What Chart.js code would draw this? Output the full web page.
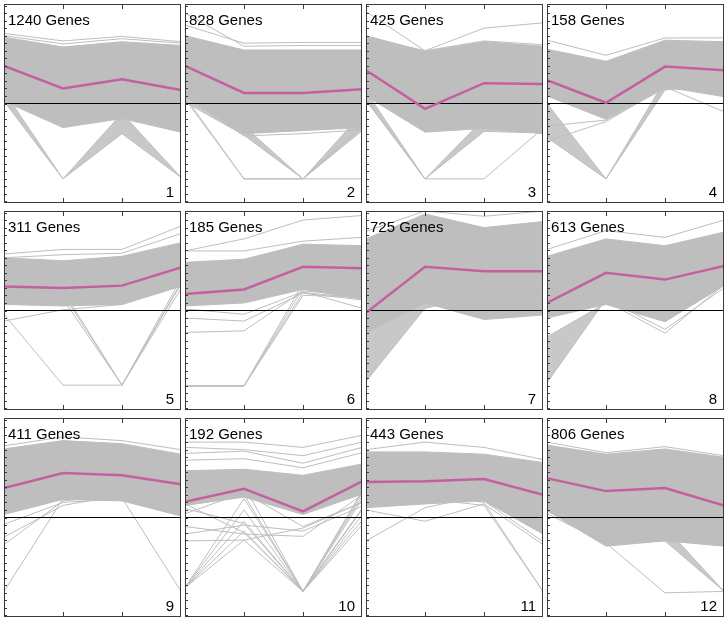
<!DOCTYPE html>
<html>
<head>
<meta charset="utf-8">
<script src="https://cdn.jsdelivr.net/npm/chart.js@4.4.1/dist/chart.umd.min.js"></script>
<style>
  html, body { margin: 0; padding: 0; background: #fff; }
  #grid { position: relative; width: 728px; height: 622px; }
  .panel { position: absolute; width: 177px; height: 199px; }
</style>
</head>
<body>
<div id="grid"></div>
<script>
// Cluster sizes, one per panel
const geneCounts = [1240, 828, 425, 158, 311, 185, 725, 613, 411, 192, 443, 806];
// 4 samples per profile
const samplePoints = [0, 1, 2, 3];

// Cluster mean profiles (pink line)
const meanProfiles = [
  [5.0, 2.0, 3.2, 1.8],
  [5.0, 1.4, 1.4, 1.9],
  [4.4, -0.7, 2.7, 2.6],
  [3.1, 0.1, 4.9, 4.4],
  [3.2, 3.0, 3.3, 5.7],
  [2.2, 2.8, 5.8, 5.6],
  [-0.3, 5.8, 5.2, 5.2],
  [1.0, 5.0, 4.1, 5.9],
  [3.9, 5.9, 5.6, 4.4],
  [2.1, 3.8, 0.8, 4.8],
  [4.7, 4.8, 5.1, 3.0],
  [5.2, 3.5, 3.9, 1.6]
];

// Upper and lower edge of the dense bundle of gene profiles
const bandUpper = [
  [8.8, 7.5, 8.2, 7.7],
  [9.0, 7.1, 7.1, 7.1],
  [9.0, 6.9, 8.2, 7.6],
  [7.2, 5.6, 8.4, 8.2],
  [7.0, 6.6, 7.2, 9.0],
  [6.4, 6.8, 8.8, 8.6],
  [9.5, 12.8, 11.0, 11.8],
  [7.2, 9.5, 8.6, 10.4],
  [9.1, 10.2, 9.8, 8.4],
  [6.2, 6.4, 5.6, 7.1],
  [8.7, 8.7, 8.4, 7.3],
  [9.6, 8.4, 9.1, 8.0]
];
const bandLower = [
  [0.3, -3.2, -2.0, -3.8],
  [0.8, -4.0, -3.6, -3.2],
  [1.0, -3.8, -3.3, -4.0],
  [1.0, -2.1, 2.2, 0.9],
  [0.8, 0.6, 0.8, 3.2],
  [0.6, 1.0, 2.8, 1.5],
  [-3.0, 1.0, -1.2, -0.6],
  [-1.0, 0.8, -1.5, 3.3],
  [0.4, 2.4, 2.2, 0.2],
  [1.6, 2.7, 0.4, 3.1],
  [1.3, 1.8, 2.2, -2.2],
  [0.9, -3.8, -3.1, -3.8]
];

// Fans of profiles dropping to the floor value (null = none)
const fanUpper = [
  [1.6, -10, -1.3, -9.8],
  [0.5, -3.0, -10, -1.3],
  [1.6, -10, -2.0, -3.0],
  [0.0, -10, 3.1, 3.0],
  null,
  null,
  [-2.5, 1.0, 2.0, 2.0],
  [-3.5, 1.0, 2.0, 4.0],
  null,
  null,
  null,
  [4.0, -2.0, -1.3, -9.8]
];
const fanLower = [
  [0.3, -10, -4.0, -9.8],
  [0.2, -4.2, -10, -3.6],
  [0.4, -10, -3.7, -3.9],
  [-4.5, -10, 1.8, 2.5],
  null,
  null,
  [-9.4, 0.3, 2.0, 2.0],
  [-9.6, 1.5, 2.0, 4.0],
  null,
  null,
  null,
  [1.0, -3.5, -3.1, -9.8]
];

// Single outlying gene profiles
const strayProfiles = [
  [[9.3, 8.3, 8.9, 8.2], [9.0, 7.9, 8.6, 8.0]],
  [[10.4, 8.0, 8.1, 8.1], [12.0, 7.6, 7.7, 7.7], [0.6, -10, -10, -10], [0.9, -10, -10, -3.0], [1.0, -4.3, -4.0, -3.5]],
  [[12.2, 7.0, 8.3, 7.8], [8.8, 7.0, 10.0, 10.7], [0.6, -10, -10, -3.3]],
  [[8.4, 6.4, 8.7, 8.7], [-3.0, -2.2, 2.0, 1.5], [-5.0, -2.4, 2.2, -1.1]],
  [[7.5, 8.1, 8.1, 11.2], [7.0, 7.4, 7.6, 10.2], [-1.4, 0.1, 0.8, 3.4], [-0.5, -9.9, -9.9, 3.5], [2.0, 2.2, -9.9, 2.9], [2.5, 2.6, -9.9, 3.7], [1.5, 1.5, -9.9, 4.2]],
  [[7.9, 9.5, 12.0, 12.6], [7.9, 7.9, 9.2, 9.7], [-2.9, -2.7, 2.6, 2.0], [-1.0, -1.4, 2.3, 1.4], [0.2, -0.5, 2.5, 0.3],
   [-10, -10, 3.6, 2.4], [-10, -10, 3.0, 2.0], [-10, -10, 2.4, 1.6], [-10, -10, 2.0, 1.8]],
  [[10.5, 13.2, 12.5, 13.2]],
  [[8.1, 10.6, 9.7, 12.0], [1.0, 1.2, -3.0, 3.4], [0.5, 1.5, -2.5, 3.0]],
  [[9.5, 10.7, 10.2, 9.0], [-9.8, 2.5, 4.0, 3.0], [3.0, 4.0, 2.6, -9.8], [-3.6, 2.2, 3.0, 2.0], [-2.6, 1.6, 3.0, 1.5], [-0.9, 2.0, 2.5, 0.5]],
  [[10.0, 10.0, 9.3, 10.9], [9.3, 9.0, 8.2, 10.0], [8.5, 8.8, 7.2, 9.3], [7.6, 7.8, 6.6, 8.6],
   [-3.1, -3.0, -1.4, 2.0], [-1.2, -2.2, -2.5, 3.0], [-2.2, -1.0, -1.8, 1.5], [0.5, 3.3, -1.2, 2.0],
   [-9.3, 2.5, -9.8, 3.5], [-9.3, 1.0, -9.8, 2.4], [-9.3, -0.5, -9.8, 1.2], [-9.3, -1.8, -9.8, 0.3], [-9.3, -3.0, -9.8, -0.4],
   [2.0, 3.0, -9.8, 2.8], [1.8, -2.0, -9.8, 1.0], [1.2, -0.8, -9.8, -1.0], [2.4, 4.2, -9.8, 3.2]],
  [[9.0, 10.0, 9.3, 7.7], [-3.1, 1.3, 3.0, 2.0], [1.0, -0.5, 1.8, -3.6], [3.0, 3.0, 2.0, -9.8], [2.5, 2.5, 1.6, -9.8], [2.2, 2.3, 2.2, -3.2]],
  [[10.0, 8.6, 9.4, 8.2], [0.5, -3.4, -10.0, -9.8]]
];

const zeroLine = [0, 0, 0, 0];

const GREY = 'rgb(190,190,190)';
const PINK = 'rgb(196,96,160)';
const colLeft = [4, 185, 366, 547];
const rowTop = [4, 211, 418];

// frame, inward ticks and the two labels of each panel
const panelFrame = {
  id: 'panelFrame',
  afterDraw(chart, args, opts) {
    const { ctx, chartArea: a } = chart;
    const x = chart.scales.x, y = chart.scales.y;
    ctx.save();
    ctx.strokeStyle = '#3a3a3a';
    ctx.lineWidth = 1;
    ctx.beginPath();
    for (let v = -13; v <= 13; v++) {
      const py = Math.round(y.getPixelForValue(v)) + 0.5;
      ctx.moveTo(a.left, py);
      ctx.lineTo(a.left + 3, py);
    }
    [1, 2].forEach(t => {
      const px = Math.round(x.getPixelForValue(t)) + 0.5;
      ctx.moveTo(px, a.top);
      ctx.lineTo(px, a.top + 5);
      ctx.moveTo(px, a.bottom);
      ctx.lineTo(px, a.bottom - 5);
    });
    ctx.stroke();
    ctx.strokeRect(a.left + 0.5, a.top + 0.5, a.width - 1, a.height - 1);

    ctx.fillStyle = '#000';
    ctx.font = '15px "Liberation Sans", Arial, sans-serif';
    ctx.textBaseline = 'alphabetic';
    ctx.textAlign = 'left';
    ctx.fillText(opts.title, a.left + 4, a.top + 21);
    ctx.textAlign = 'right';
    ctx.fillText(opts.number, a.right - 7, a.bottom - 6);
    ctx.restore();
  }
};

function lineSet(data, color, width, extra) {
  return Object.assign({
    data: data,
    borderColor: color,
    borderWidth: width,
    pointRadius: 0,
    tension: 0,
    fill: false
  }, extra || {});
}

const grid = document.getElementById('grid');

geneCounts.forEach((count, i) => {
  const box = document.createElement('div');
  box.className = 'panel';
  box.style.left = colLeft[i % 4] + 'px';
  box.style.top = rowTop[Math.floor(i / 4)] + 'px';
  const canvas = document.createElement('canvas');
  canvas.width = 177;
  canvas.height = 199;
  box.appendChild(canvas);
  grid.appendChild(box);

  // first dataset is drawn on top
  const datasets = [];
  datasets.push(lineSet(meanProfiles[i], PINK, 2.5));
  datasets.push(lineSet(zeroLine, '#000', 1));
  strayProfiles[i].forEach(p => datasets.push(lineSet(p, GREY, 1)));
  if (fanUpper[i]) {
    datasets.push(lineSet(fanUpper[i], GREY, 1, { fill: '+1', backgroundColor: 'rgba(190,190,190,0.85)' }));
    datasets.push(lineSet(fanLower[i], GREY, 1));
  }
  datasets.push(lineSet(bandUpper[i], GREY, 1, { fill: '+1', backgroundColor: GREY }));
  datasets.push(lineSet(bandLower[i], GREY, 1));

  new Chart(canvas, {
    type: 'line',
    data: { labels: samplePoints, datasets: datasets },
    options: {
      responsive: false,
      animation: false,
      devicePixelRatio: 1,
      layout: { padding: 0 },
      scales: {
        x: { type: 'linear', min: 0, max: 3, display: false },
        y: { type: 'linear', min: -13.2, max: 13.2, display: false }
      },
      plugins: {
        legend: { display: false },
        tooltip: { enabled: false },
        panelFrame: { title: count + ' Genes', number: String(i + 1) }
      }
    },
    plugins: [panelFrame]
  });
});
</script>
</body>
</html>
